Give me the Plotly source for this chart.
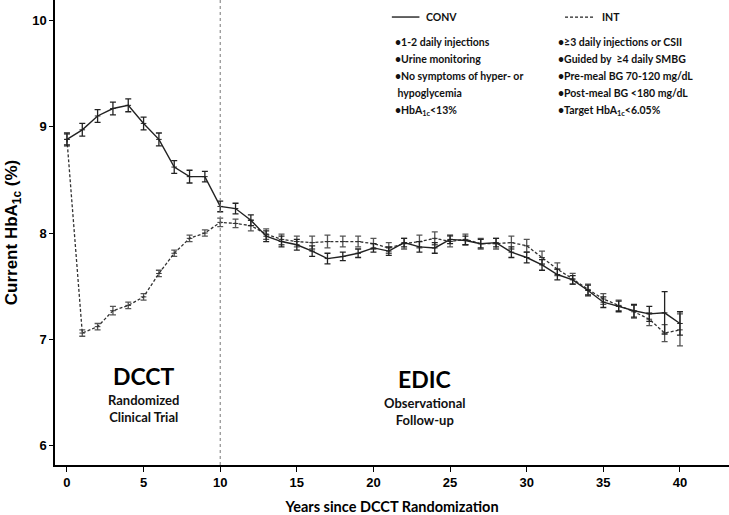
import plotly.graph_objects as go

# Years since randomization
years = list(range(0, 41))

# Conventional therapy group (solid line)
conv_hba1c = [8.88, 8.97, 9.10, 9.17, 9.20, 9.03, 8.88, 8.62, 8.53, 8.53,
              8.25, 8.23, 8.12, 7.97, 7.92, 7.89, 7.83, 7.76, 7.78, 7.81,
              7.86, 7.83, 7.91, 7.87, 7.86, 7.94, 7.93, 7.90, 7.91, 7.82,
              7.77, 7.70, 7.61, 7.56, 7.46, 7.35, 7.31, 7.27, 7.24, 7.25,
              7.15]
conv_err = [0.06, 0.06, 0.06, 0.06, 0.06, 0.06, 0.06, 0.06, 0.06, 0.05,
            0.05, 0.05, 0.05, 0.05, 0.05, 0.05, 0.05, 0.05, 0.04, 0.04,
            0.04, 0.04, 0.04, 0.05, 0.05, 0.04, 0.04, 0.04, 0.04, 0.05,
            0.05, 0.05, 0.05, 0.04, 0.05, 0.05, 0.05, 0.06, 0.07, 0.20,
            0.11]

# Intensive therapy group (dashed line)
int_hba1c = [8.88, 7.06, 7.12, 7.27, 7.32, 7.40, 7.62, 7.81, 7.95, 8.00,
             8.10, 8.09, 8.07, 7.99, 7.94, 7.92, 7.91, 7.92, 7.92, 7.92,
             7.90, 7.86, 7.90, 7.92, 7.95, 7.92, 7.94, 7.90, 7.90, 7.91,
             7.88, 7.77, 7.66, 7.57, 7.47, 7.38, 7.32, 7.26, 7.19, 7.06,
             7.09]
int_err = [0.05, 0.03, 0.03, 0.04, 0.03, 0.03, 0.03, 0.03, 0.03, 0.03,
           0.04, 0.04, 0.05, 0.05, 0.05, 0.05, 0.06, 0.06, 0.05, 0.05,
           0.05, 0.05, 0.05, 0.06, 0.06, 0.05, 0.05, 0.05, 0.05, 0.06,
           0.06, 0.06, 0.06, 0.05, 0.05, 0.05, 0.05, 0.06, 0.06, 0.08,
           0.15]

conv_notes = ["•1-2 daily injections", "•Urine monitoring",
              "•No symptoms of hyper- or", " hypoglycemia",
              "•HbA<sub>1c</sub><13%"]
int_notes = ["•≥3 daily injections or CSII", "•Guided by  ≥4 daily SMBG",
             "•Pre-meal BG 70-120 mg/dL", "•Post-meal BG <180 mg/dL",
             "•Target HbA<sub>1c</sub><6.05%"]

NARROW = "Lato, Liberation Sans, sans-serif"
ARIAL = "Liberation Sans, Arial, sans-serif"

fig = go.Figure()

fig.add_trace(go.Scatter(
    x=years, y=int_hba1c, mode="lines+markers", name="INT",
    line=dict(color="#333333", width=1.3, dash="3px,2px"),
    marker=dict(symbol="line-ew-open", size=4, color="#333333",
                line=dict(width=1, color="#333333")),
    error_y=dict(type="data", array=int_err, color="#555555",
                 thickness=1.3, width=3),
))
fig.add_trace(go.Scatter(
    x=years, y=conv_hba1c, mode="lines+markers", name="CONV",
    line=dict(color="#222222", width=1.4),
    marker=dict(symbol="line-ew-open", size=4, color="#222222",
                line=dict(width=1, color="#222222")),
    error_y=dict(type="data", array=conv_err, color="#222222",
                 thickness=1.3, width=3),
))

# DCCT / EDIC boundary
fig.add_shape(type="line", x0=10, x1=10, y0=0, y1=1, yref="paper",
              line=dict(color="#777777", width=1, dash="3px,3px"))

# legend samples
fig.add_shape(type="line", x0=21.2, x1=23.0, y0=10.03, y1=10.03,
              line=dict(color="#222222", width=1.4))
fig.add_shape(type="line", x0=32.5, x1=34.4, y0=10.03, y1=10.03,
              line=dict(color="#222222", width=1.2, dash="3px,2px"))

anno_font = dict(family=NARROW, size=10.5, color="#111111", weight="bold")
fig.add_annotation(x=23.3, y=10.03, text="CONV", showarrow=False,
                   xanchor="left", font=anno_font)
fig.add_annotation(x=34.8, y=10.03, text="INT", showarrow=False,
                   xanchor="left", font=anno_font)

rows = [9.80, 9.64, 9.48, 9.32, 9.15]
for yy, t in zip(rows, conv_notes):
    fig.add_annotation(x=21.3, y=yy, text=t, showarrow=False,
                       xanchor="left", font=anno_font)
for yy, t in zip(rows, int_notes):
    fig.add_annotation(x=31.9, y=yy, text=t, showarrow=False,
                       xanchor="left", font=anno_font)

# period labels
big = dict(family=NARROW, size=23, color="#000000", weight="bold")
sub = dict(family=NARROW, size=13, color="#111111", weight="bold")
fig.add_annotation(x=5, y=6.66, text="DCCT", showarrow=False, font=big)
fig.add_annotation(x=5, y=6.35, text="Randomized<br>Clinical Trial",
                   showarrow=False, font=sub)
fig.add_annotation(x=23.3, y=6.63, text="EDIC", showarrow=False, font=big)
fig.add_annotation(x=23.3, y=6.32, text="Observational<br>Follow-up",
                   showarrow=False, font=sub)

fig.update_layout(
    width=729, height=515,
    margin=dict(l=55, r=0, t=0, b=50),
    plot_bgcolor="white", paper_bgcolor="white",
    showlegend=False,
    xaxis=dict(
        range=[-0.78, 43.2], tickvals=[0, 5, 10, 15, 20, 25, 30, 35, 40],
        showgrid=False, zeroline=False, showline=True, linecolor="black",
        linewidth=1.5, ticks="outside", ticklen=5, tickcolor="black",
        tickfont=dict(family=ARIAL, size=13, color="black", weight="bold"),
        title=dict(text="Years since DCCT Randomization", standoff=14,
                   font=dict(family=NARROW, size=14.5, color="black",
                             weight="bold")),
    ),
    yaxis=dict(
        range=[5.82, 10.19], tickvals=[6, 7, 8, 9, 10],
        showgrid=False, zeroline=False, showline=True, linecolor="black",
        linewidth=1.5, ticks="outside", ticklen=4, tickcolor="black",
        tickfont=dict(family=ARIAL, size=13, color="black", weight="bold"),
        title=dict(text="Current HbA<sub>1c</sub> (%)", standoff=10,
                   font=dict(family=ARIAL, size=17, color="black",
                             weight="bold")),
    ),
)

# drop the default page margin so the figure fills the window
post = "document.body.style.margin = '0';"

fig.write_html("out.html", post_script=post,
               config={"displayModeBar": False})
